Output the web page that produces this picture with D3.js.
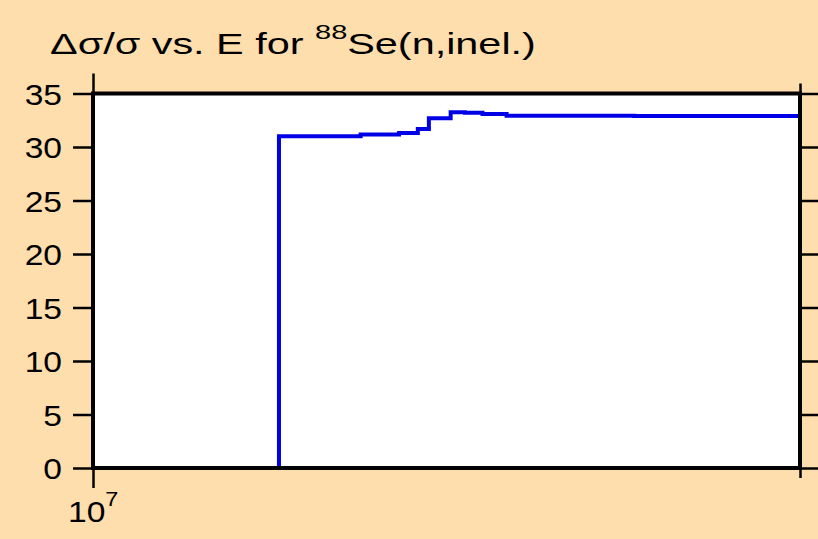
<!DOCTYPE html>
<html>
<head>
<meta charset="utf-8">
<script src="https://cdn.jsdelivr.net/npm/d3@7"></script>
<style>
  html, body { margin: 0; padding: 0; background: #FFDEAD; }
  svg { display: block; }
  text { font-family: "Liberation Sans", Arial, Helvetica, sans-serif; fill: #000; }
</style>
</head>
<body>
<svg id="chart" width="818" height="539"></svg>
<script>
// Data
const energies = [1.2e7, 1.3e7, 1.35e7, 1.375e7, 1.39e7, 1.42e7, 1.44e7, 1.465e7, 1.5e7, 1.6e7, 1.7e7, 2e7];
const values   = [31.0, 31.17, 31.31, 31.68, 32.68, 33.24, 33.19, 33.08, 32.92, 32.91, 32.9, 32.9];
const yTicks = [0, 5, 10, 15, 20, 25, 30, 35];
const xMajorTicks = [1e7];
const xMinorTicks = [2e7];
const xDomain = [1e7, 2e7];
const yDomain = [0, 35];

const svg = d3.select("#chart");
const W = 818, H = 539;
const m = { left: 93, right: 18, top: 93.5, bottom: 71 };

svg.append("rect").attr("width", W).attr("height", H).attr("fill", "#FFDEAD");

const x = d3.scaleLog().domain(xDomain).range([m.left, W - m.right]);
const y = d3.scaleLinear().domain(yDomain).range([H - m.bottom, m.top]);

// plot area
svg.append("rect")
  .attr("x", x(xDomain[0])).attr("y", y(yDomain[1]))
  .attr("width", x(xDomain[1]) - x(xDomain[0]))
  .attr("height", y(yDomain[0]) - y(yDomain[1]))
  .attr("fill", "#fff");

// step line (histogram style: up from 0, steps, down to 0)
const lineLin = d3.line().x(d => x(d[0])).y(d => y(d[1]));
const stepPath = [[energies[0], 0]];
for (let i = 0; i < energies.length - 1; i++) {
  stepPath.push([energies[i], values[i]]);
  stepPath.push([energies[i + 1], values[i]]);
}
stepPath.push([energies[energies.length - 1], 0]);
svg.append("path")
  .attr("d", lineLin(stepPath))
  .attr("fill", "none")
  .attr("stroke", "#0000e6")
  .attr("stroke-width", 4)
  .attr("stroke-linejoin", "miter");

// y axes (left with labels, right ticks only)
const sx = 1.12;
const axisLeft = d3.axisLeft(y).tickValues(yTicks).tickSizeInner(20).tickSizeOuter(0).tickPadding(10);
const axisRight = d3.axisRight(y).tickValues(yTicks).tickSizeInner(20).tickSizeOuter(0).tickFormat("");
const gL = svg.append("g").attr("transform", `translate(${x(xDomain[0])},0)`).call(axisLeft);
const gR = svg.append("g").attr("transform", `translate(${x(xDomain[1])},0)`).call(axisRight);
[gL, gR].forEach(g => {
  g.select(".domain").remove();
  g.selectAll(".tick line").attr("stroke", "#000").attr("stroke-width", 2.5);
});
gL.selectAll(".tick text")
  .attr("font-family", "Liberation Sans, Arial, sans-serif")
  .style("font-size", "30px")
  .attr("fill", "#000")
  .attr("x", -31 / sx)
  .attr("dy", "0.35em")
  .attr("transform", `scale(${sx},1)`);

// x ticks: bottom and top
const axisB = d3.axisBottom(x).tickValues(xMajorTicks).tickSizeInner(20).tickSizeOuter(0).tickFormat("");
const axisBm = d3.axisBottom(x).tickValues(xMinorTicks).tickSizeInner(10).tickSizeOuter(0).tickFormat("");
const axisT = d3.axisTop(x).tickValues(xMajorTicks).tickSizeInner(20).tickSizeOuter(0).tickFormat("");
const axisTm = d3.axisTop(x).tickValues(xMinorTicks).tickSizeInner(10).tickSizeOuter(0).tickFormat("");
const gx = [
  svg.append("g").attr("transform", `translate(0,${y(0)})`).call(axisB),
  svg.append("g").attr("transform", `translate(0,${y(0)})`).call(axisBm),
  svg.append("g").attr("transform", `translate(0,${y(35)})`).call(axisT),
  svg.append("g").attr("transform", `translate(0,${y(35)})`).call(axisTm)
];
gx.forEach(g => {
  g.select(".domain").remove();
  g.selectAll(".tick line").attr("stroke", "#000").attr("stroke-width", 2.5);
});

// x tick labels (10^7)
xMajorTicks.forEach(v => {
  const exp = Math.round(Math.log10(v));
  const t = svg.append("text")
    .attr("transform", `translate(${x(v) - 25},${y(0) + 54}) scale(${sx},1)`)
    .attr("text-anchor", "start")
    .style("font-size", "30px");
  t.append("tspan").text("10");
  t.append("tspan").attr("dy", -16).style("font-size", "21px").text(exp);
});

// frame
svg.append("rect")
  .attr("x", x(xDomain[0])).attr("y", y(yDomain[1]))
  .attr("width", x(xDomain[1]) - x(xDomain[0]))
  .attr("height", y(yDomain[0]) - y(yDomain[1]))
  .attr("fill", "none").attr("stroke", "#000").attr("stroke-width", 4);

// title
const title = svg.append("text")
  .attr("transform", "translate(50,54) scale(1.38,1)")
  .style("font-size", "30px");
title.append("tspan").text("\u0394\u03c3/\u03c3 vs. E for ");
title.append("tspan").attr("dy", -15).style("font-size", "21px").text("88");
title.append("tspan").attr("dy", 15).text("Se(n,inel.)");
</script>
</body>
</html>
